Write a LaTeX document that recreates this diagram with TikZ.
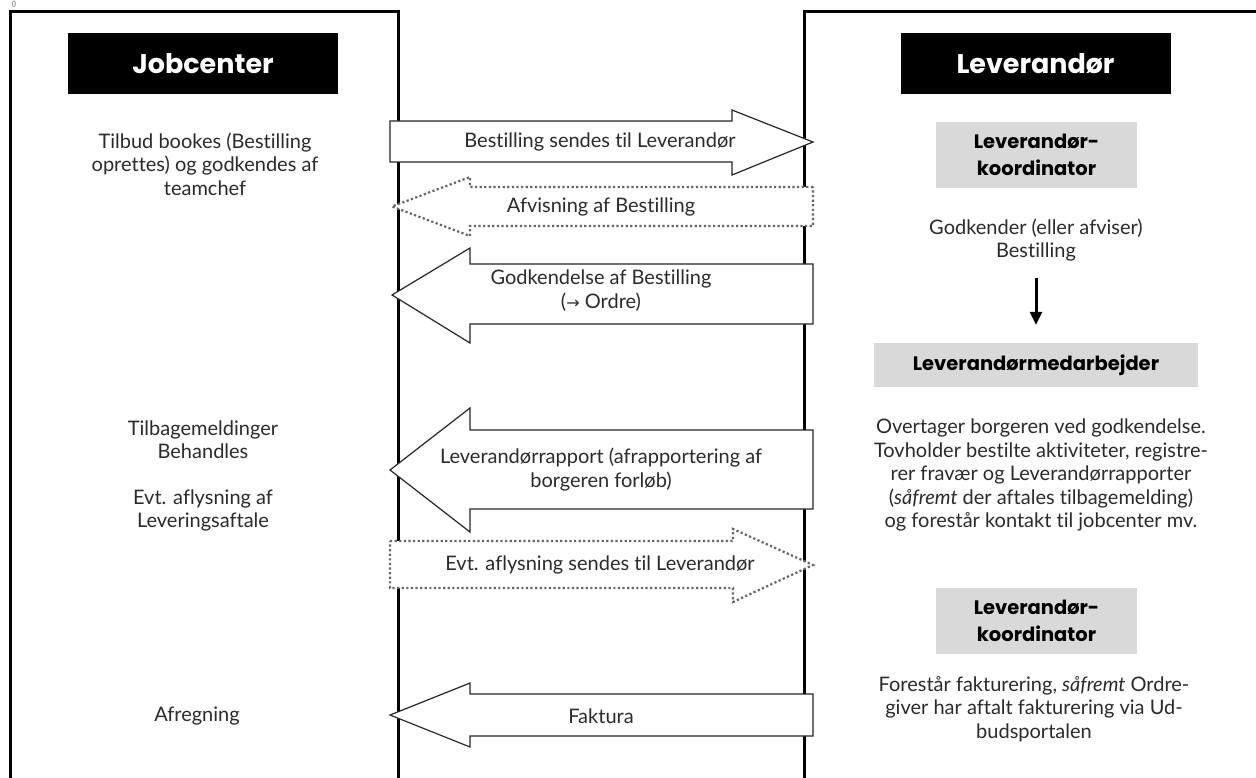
\documentclass[tikz,border=0pt]{standalone}
\usepackage{fontspec}
\setmainfont{Lato}[Ligatures={NoCommon}]
\newfontfamily\headfont{Poppins}[Ligatures={NoCommon}]
\newfontfamily\symfont{DejaVu Sans}
\usetikzlibrary{arrows.meta}
\definecolor{txt}{HTML}{2B2B2B}
\definecolor{boxgrey}{HTML}{D9D9D9}
\begin{document}
\begin{tikzpicture}[x=1pt,y=-1pt,
  body/.style={font=\fontsize{20}{23.5}\selectfont, text=txt, align=center, inner sep=0pt},
  header/.style={fill=black, text=white, font=\headfont\bfseries\fontsize{27}{30}\selectfont, minimum width=270pt, minimum height=61pt, inner sep=0pt},
  role/.style={fill=boxgrey, text=black, font=\headfont\bfseries\fontsize{19.5}{27}\selectfont, align=center, inner sep=0pt},
  blk/.style={draw=black!85, line width=1.2pt, fill=white, line join=miter},
  dotblk/.style={draw=black!60, line width=2.2pt, dash pattern=on 2.2pt off 2.4pt, fill=white},
  col/.style={line width=3pt, draw=black}
]
\useasboundingbox (0,0) rectangle (1256,778);
\clip (0,0) rectangle (1256,778);
\fill[white] (0,0) rectangle (1256,778);
\node[font=\fontsize{7}{7}\selectfont, text=black!70, inner sep=0pt] (corner) at (14,4) {()};

% columns
\draw[col] (10,800) -- (10,12) -- (398,12) -- (398,800);
\draw[col] (804,800) -- (804,12) -- (1270,12);

% headers
\node[header] (jc) at (203,63.5) {Jobcenter};
\node[header] (lev) at (1035.5,63.5) {Leverandør};

% left texts
\node[body] (tilbud) at (205,164) {Tilbud bookes (Bestilling\\oprettes) og godkendes af\\teamchef};
\node[body] (tilbage) at (203,439.5) {Tilbagemeldinger\\Behandles};
\node[body] (evt) at (203,510.5) {Evt. aflysning af\\Leveringsaftale};
\node[body] (afr) at (197,716) {Afregning};

% right side
\node[role, minimum width=201pt, minimum height=66pt] (koord1) at (1036.5,155) {Leverandør-\\koordinator};
\node[body] (godk) at (1036,240) {Godkender (eller afviser)\\Bestilling};
\node[role, minimum width=324pt, minimum height=44pt] (med) at (1036,365) {Leverandørmedarbejder};
\node[body] (overt) at (1041,475) {Overtager borgeren ved godkendelse.\\Tovholder bestilte aktiviteter, registre-\\rer fravær og Leverandørrapporter\\(\textit{såfremt} der aftales tilbagemelding)\\og forestår kontakt til jobcenter mv.};
\node[role, minimum width=201pt, minimum height=66pt] (koord2) at (1036.5,621) {Leverandør-\\koordinator};
\node[body] (fakt) at (1034,709) {Forestår fakturering, \textit{såfremt} Ordre-\\giver har aftalt fakturering via Ud-\\budsportalen};

\draw[line width=3pt, -{Triangle[width=12pt,length=13pt]}, shorten <=16pt, shorten >=18pt] (godk) -- (med);

% block arrows
\draw[blk] (390,121) -- (732,121) -- (732,110) -- (813,142) -- (732,175) -- (732,162) -- (390,162) -- cycle;
\node[body] (a1) at (600,142) {Bestilling sendes til Leverandør};

\draw[dotblk] (813,187) -- (470,187) -- (470,177) -- (392,206.5) -- (470,236) -- (470,226) -- (813,226) -- cycle;
\node[body] (a2) at (601,207) {Afvisning af Bestilling};

\draw[blk] (813,264) -- (470,264) -- (470,248) -- (392,295) -- (470,343) -- (470,324) -- (813,324) -- cycle;
\node[body] (a3) at (601,290.5) {Godkendelse af Bestilling\\({\symfont\fontsize{16}{16}\selectfont →} Ordre)};

\draw[blk] (813,430) -- (470,430) -- (470,408) -- (390,470) -- (470,532) -- (470,509) -- (813,509) -- cycle;
\node[body] (a4) at (601,469.5) {Leverandørrapport (afrapportering af\\borgeren forløb)};

\draw[dotblk] (390,541) -- (733,541) -- (733,529) -- (813,565) -- (733,602) -- (733,588) -- (390,588) -- cycle;
\node[body] (a5) at (600,565) {Evt. aflysning sendes til Leverandør};

\draw[blk] (813,694) -- (470,694) -- (470,683) -- (390,715) -- (470,747) -- (470,736) -- (813,736) -- cycle;
\node[body] (a6) at (601,716) {Faktura};
\end{tikzpicture}
\end{document}
